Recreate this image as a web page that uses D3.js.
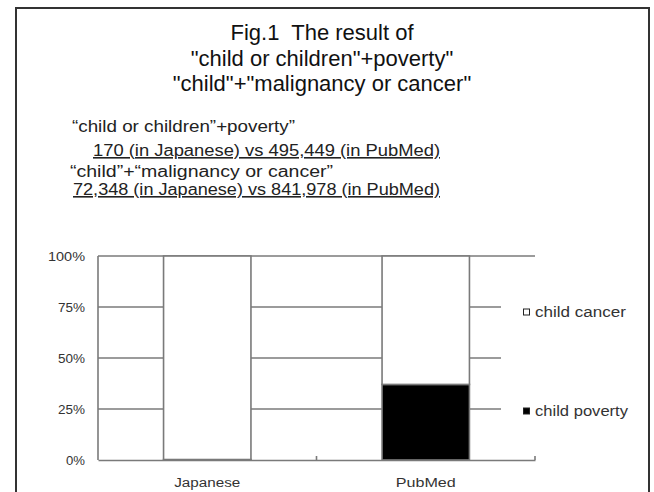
<!DOCTYPE html>
<html>
<head>
<meta charset="utf-8">
<script src="https://cdn.jsdelivr.net/npm/d3@7"></script>
<style>
  body { margin: 0; background: #fff; }
  svg { display: block; font-family: "Liberation Sans", Arial, sans-serif; }
  text { white-space: pre; }
</style>
</head>
<body>
<div id="chart"></div>
<script>
// data
var categories = ["Japanese", "PubMed"];
var povertyHits = [170, 495449];
var cancerHits = [72348, 841978];
var seriesKeys = ["poverty", "cancer"];
var seriesNames = ["child poverty", "child cancer"];
var yTicks = [0, 0.25, 0.5, 0.75, 1];

var titleLines = ["Fig.1  The result of", "\"child or children\"+poverty\"", "\"child\"+\"malignancy or cancer\""];
var noteLines = [
  {text: "\u201cchild or children\u201d+poverty\u201d", under: false},
  {text: "170 (in Japanese) vs 495,449 (in PubMed)", under: true},
  {text: "\u201cchild\u201d+\u201cmalignancy or cancer\u201d", under: false},
  {text: "72,348 (in Japanese) vs 841,978 (in PubMed)", under: true}
];

var table = categories.map(function(c, i) {
  return {cat: c, poverty: povertyHits[i], cancer: cancerHits[i]};
});

var W = 654, H = 492;
var margin = {top: 256, right: 119, bottom: 32, left: 98},
    width = W - margin.left - margin.right,
    height = H - margin.top - margin.bottom;

var svg = d3.select("#chart").append("svg")
    .attr("width", W)
    .attr("height", H);

// outer frame
svg.append("rect")
    .attr("x", 16).attr("y", 8)
    .attr("width", 633).attr("height", 520)
    .attr("fill", "none")
    .attr("stroke", "#333")
    .attr("stroke-width", 2);

// title
svg.append("g").selectAll("text")
    .data(titleLines)
    .enter().append("text")
    .attr("x", 322)
    .attr("y", function(d, i) { return 40 + i * 25.5; })
    .attr("text-anchor", "middle")
    .attr("font-size", 22)
    .attr("fill", "#111")
    .text(function(d) { return d; });

// notes under title
var noteX = [72, 93, 70, 73];
var noteY = [132, 156, 177, 195];
var noteLen = [223, 347, 263, 367];
svg.append("g").selectAll("text")
    .data(noteLines)
    .enter().append("text")
    .attr("x", function(d, i) { return noteX[i]; })
    .attr("y", function(d, i) { return noteY[i]; })
    .attr("font-size", 16)
    .attr("fill", "#222")
    .attr("textLength", function(d, i) { return noteLen[i]; })
    .attr("lengthAdjust", "spacingAndGlyphs")
    .attr("text-decoration", function(d) { return d.under ? "underline" : null; })
    .text(function(d) { return d.text; });

var g = svg.append("g").attr("transform", "translate(" + margin.left + "," + margin.top + ")");

var x = d3.scaleBand().domain(categories).range([0, width]).paddingInner(0.6).paddingOuter(0.3);
var y = d3.scaleLinear().domain([0, 1]).range([height, 0]);

var lineColor = "#7a7a7a";

// gridlines
g.append("g").selectAll("line")
    .data(yTicks.slice(1))
    .enter().append("line")
    .attr("x1", 0).attr("x2", width)
    .attr("y1", function(d) { return y(d); })
    .attr("y2", function(d) { return y(d); })
    .attr("stroke", lineColor)
    .attr("stroke-width", 1.6);

// left axis labels
var yAxis = g.append("g")
    .call(d3.axisLeft(y).tickValues(yTicks).tickSize(0).tickPadding(13).tickFormat(d3.format(".0%")));
yAxis.select(".domain").remove();
yAxis.selectAll("text")
    .attr("font-size", 12.5)
    .attr("fill", "#333")
    .attr("font-family", "Liberation Sans, Arial, sans-serif")
    .attr("textLength", function(d) { return d === 1 ? 37 : (d === 0 ? 19 : 27); })
    .attr("lengthAdjust", "spacingAndGlyphs");

g.append("line")
    .attr("x1", 0).attr("x2", 0)
    .attr("y1", y(1)).attr("y2", y(0))
    .attr("stroke", lineColor).attr("stroke-width", 1.6);

// stacked bars (100%)
var stack = d3.stack().keys(seriesKeys).offset(d3.stackOffsetExpand);
var layers = stack(table);
var fills = {poverty: "#000", cancer: "#fff"};

g.append("g").selectAll("g")
    .data(layers)
    .enter().append("g")
    .attr("fill", function(d) { return fills[d.key]; })
    .selectAll("rect")
    .data(function(d) { return d; })
    .enter().append("rect")
    .attr("x", function(d) { return x(d.data.cat); })
    .attr("y", function(d) { return y(d[1]); })
    .attr("width", x.bandwidth())
    .attr("height", function(d) { return y(d[0]) - y(d[1]); })
    .attr("stroke", lineColor)
    .attr("stroke-width", 1.6);

// bottom axis
var xAxis = g.append("g")
    .attr("transform", "translate(0," + height + ")")
    .call(d3.axisBottom(x).tickSize(0).tickPadding(18));
xAxis.select(".domain")
    .attr("stroke", lineColor).attr("stroke-width", 1.6);
xAxis.selectAll("text")
    .attr("font-size", 12.5)
    .attr("fill", "#333")
    .attr("font-family", "Liberation Sans, Arial, sans-serif")
    .attr("textLength", function(d) { return d === "Japanese" ? 66 : 60; })
    .attr("lengthAdjust", "spacingAndGlyphs");

// category boundary ticks pointing up
g.append("g").selectAll("line")
    .data(d3.range(1, categories.length + 1))
    .enter().append("line")
    .attr("x1", function(i) { return width * i / categories.length; })
    .attr("x2", function(i) { return width * i / categories.length; })
    .attr("y1", height).attr("y2", height - 4)
    .attr("stroke", lineColor).attr("stroke-width", 1.6);

// legend
var legend = svg.append("g");
legend.append("rect")
    .attr("x", 501).attr("y", 264)
    .attr("width", 146).attr("height", 192)
    .attr("fill", "#fff");

var legendItems = [
  {key: "cancer", name: seriesNames[1], y: 312},
  {key: "poverty", name: seriesNames[0], y: 411}
];
var item = legend.selectAll(".item")
    .data(legendItems)
    .enter().append("g")
    .attr("class", "item");
item.append("rect")
    .attr("x", 523.5)
    .attr("y", function(d) { return d.y - 3; })
    .attr("width", 6).attr("height", 6)
    .attr("fill", function(d) { return fills[d.key]; })
    .attr("stroke", "#222").attr("stroke-width", 1);
item.append("text")
    .attr("x", 535)
    .attr("y", function(d) { return d.y + 5; })
    .attr("font-size", 14)
    .attr("fill", "#333")
    .attr("textLength", function(d) { return d.key === "cancer" ? 91 : 93; })
    .attr("lengthAdjust", "spacingAndGlyphs")
    .text(function(d) { return d.name; });
</script>
</body>
</html>
